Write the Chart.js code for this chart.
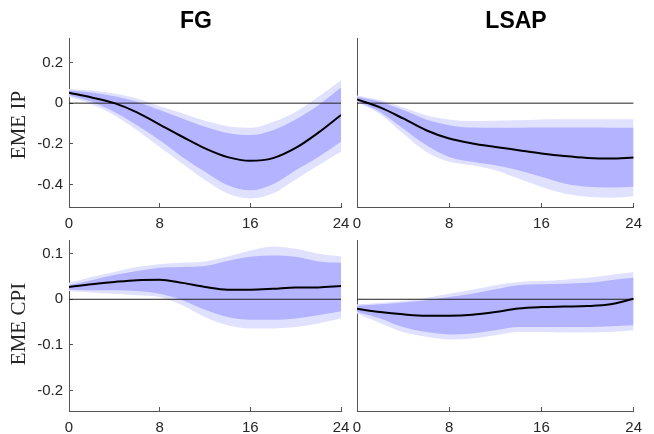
<!DOCTYPE html>
<html>
<head>
<meta charset="utf-8">
<script src="https://cdn.jsdelivr.net/npm/chart.js@4/dist/chart.umd.min.js"></script>
<style>
  body { margin: 0; background: #fff; }
  #wrap { position: relative; width: 654px; height: 434px; overflow: hidden; }
  #wrap canvas { position: absolute; left: 0; top: 0; }
  .title { position: absolute; top: 9px; font: bold 23px "Liberation Sans", Arial, sans-serif; line-height: 23px; color: #000; transform: translateX(-50%); white-space: nowrap; }
  .ylab { position: absolute; left: 18px; font: 21px "Liberation Serif", "Times New Roman", serif; color: #262626; white-space: nowrap; transform: translate(-50%, -50%) rotate(-90deg); }
</style>
</head>
<body>
<div id="wrap">
  <canvas id="c1" width="654" height="434"></canvas>
  <canvas id="c2" width="654" height="434"></canvas>
  <canvas id="c3" width="654" height="434"></canvas>
  <canvas id="c4" width="654" height="434"></canvas>
  <div class="title" style="left:196px">FG</div>
  <div class="title" style="left:516px">LSAP</div>
  <div class="ylab" style="top:125px">EME IP</div>
  <div class="ylab" style="top:324px">EME CPI</div>
</div>
<script>
// horizons (months)
const horizons = [0, 2, 4, 6, 8, 10, 12, 14, 16, 18, 20, 22, 24];
const xTicks = [0, 8, 16, 24];
const ipTicks = [0.2, 0, -0.2, -0.4];
const cpiTicks = [0.1, 0, -0.1, -0.2];

// FG -> EME IP
const fgIpMedian  = [0.051, 0.028, 0.0, -0.045, -0.105, -0.165, -0.222, -0.265, -0.283, -0.27, -0.22, -0.145, -0.058];
const fgIpLightUp = [0.07, 0.062, 0.048, 0.023, -0.015, -0.05, -0.087, -0.113, -0.121, -0.092, -0.043, 0.031, 0.113];
const fgIpDarkUp  = [0.064, 0.052, 0.034, 0.007, -0.034, -0.075, -0.116, -0.146, -0.157, -0.133, -0.08, -0.01, 0.077];
const fgIpDarkLo  = [0.039, 0.007, -0.043, -0.108, -0.182, -0.264, -0.337, -0.403, -0.428, -0.398, -0.329, -0.264, -0.19];
const fgIpLightLo = [0.031, -0.005, -0.059, -0.133, -0.215, -0.296, -0.378, -0.444, -0.468, -0.444, -0.375, -0.305, -0.239];

// LSAP -> EME IP
const lsapIpMedian  = [0.018, -0.021, -0.075, -0.133, -0.174, -0.198, -0.215, -0.231, -0.247, -0.26, -0.269, -0.272, -0.267];
const lsapIpLightUp = [0.038, 0.015, -0.021, -0.059, -0.08, -0.088, -0.087, -0.084, -0.08, -0.079, -0.079, -0.079, -0.079];
const lsapIpDarkUp  = [0.031, 0.007, -0.034, -0.08, -0.108, -0.12, -0.121, -0.121, -0.12, -0.12, -0.12, -0.121, -0.121];
const lsapIpDarkLo  = [0.011, -0.043, -0.124, -0.206, -0.264, -0.288, -0.305, -0.329, -0.362, -0.395, -0.411, -0.414, -0.411];
const lsapIpLightLo = [0.007, -0.054, -0.149, -0.239, -0.288, -0.305, -0.329, -0.37, -0.411, -0.444, -0.46, -0.464, -0.457];

// FG -> EME CPI
const fgCpiMedian  = [0.027, 0.033, 0.038, 0.042, 0.043, 0.036, 0.027, 0.021, 0.021, 0.023, 0.026, 0.026, 0.029];
const fgCpiLightUp = [0.036, 0.049, 0.06, 0.071, 0.077, 0.08, 0.083, 0.094, 0.107, 0.116, 0.111, 0.1, 0.094];
const fgCpiDarkUp  = [0.031, 0.042, 0.053, 0.062, 0.069, 0.071, 0.073, 0.084, 0.093, 0.096, 0.093, 0.083, 0.08];
const fgCpiDarkLo  = [0.021, 0.02, 0.02, 0.018, 0.012, -0.002, -0.023, -0.039, -0.045, -0.045, -0.042, -0.035, -0.026];
const fgCpiLightLo = [0.018, 0.015, 0.012, 0.009, 0.005, -0.013, -0.039, -0.057, -0.064, -0.064, -0.061, -0.053, -0.042];

// LSAP -> EME CPI
const lsapCpiMedian  = [-0.021, -0.028, -0.033, -0.036, -0.036, -0.034, -0.028, -0.02, -0.017, -0.016, -0.015, -0.011, 0.001];
const lsapCpiLightUp = [-0.011, -0.008, -0.004, 0.003, 0.012, 0.021, 0.031, 0.038, 0.04, 0.043, 0.047, 0.053, 0.06];
const lsapCpiDarkUp  = [-0.014, -0.011, -0.007, -0.002, 0.005, 0.012, 0.022, 0.031, 0.033, 0.034, 0.036, 0.042, 0.047];
const lsapCpiDarkLo  = [-0.028, -0.042, -0.061, -0.072, -0.077, -0.075, -0.068, -0.061, -0.061, -0.061, -0.061, -0.059, -0.057];
const lsapCpiLightLo = [-0.031, -0.052, -0.072, -0.082, -0.088, -0.086, -0.079, -0.072, -0.072, -0.073, -0.073, -0.072, -0.068];

const lightBlue = '#e0e0ff';
const darkBlue = '#b3b3ff';
const axisColor = '#555';
const tickFont = { family: '"Liberation Sans", Arial, sans-serif', size: 15 };
const yAxisW = 60;   // room for y tick labels

function pts(vals) {
    return vals.map((v, i) => ({ x: horizons[i], y: v }));
}

function band(vals, color, fill, order) {
    return {
        data: pts(vals),
        fill: fill ? '+1' : false,
        backgroundColor: color,
        borderColor: 'transparent',
        borderWidth: 1,
        pointRadius: 0,
        cubicInterpolationMode: 'monotone',
        order: order
    };
}

// area = plot box in page pixels [left, top, right, bottom]
function panel(id, area, yMin, yMax, yTicks, showY, s) {
    const yw = showY ? yAxisW : 0;
    const xh = Math.min(30, 434 - area[3]);   // room for x tick labels
    new Chart(document.getElementById(id), {
        type: 'line',
        data: {
            datasets: [
                band(s[1], lightBlue, true, 4),
                band(s[4], lightBlue, false, 4),
                band(s[2], darkBlue, true, 3),
                band(s[3], darkBlue, false, 3),
                {
                    data: [{ x: xTicks[0], y: 0 }, { x: xTicks[xTicks.length - 1], y: 0 }],
                    borderColor: '#222',
                    borderWidth: 1,
                    pointRadius: 0,
                    fill: false,
                    order: 2
                },
                {
                    data: pts(s[0]),
                    borderColor: '#000',
                    borderWidth: 2,
                    pointRadius: 0,
                    fill: false,
                    cubicInterpolationMode: 'monotone',
                    order: 1
                }
            ]
        },
        options: {
            responsive: false,
            animation: false,
            events: [],
            layout: {
                padding: {
                    left: area[0] - yw,
                    top: area[1],
                    right: 654 - area[2],
                    bottom: 434 - area[3] - xh
                }
            },
            plugins: { legend: { display: false }, tooltip: { enabled: false } },
            scales: {
                x: {
                    type: 'linear',
                    min: 0,
                    max: 24,
                    afterBuildTicks: sc => { sc.ticks = xTicks.map(v => ({ value: v })); },
                    afterFit: sc => { sc.height = xh; },
                    grid: { drawOnChartArea: false, tickLength: -4, color: axisColor },
                    border: { color: axisColor, width: 1 },
                    ticks: { padding: 12, font: tickFont, color: '#262626', maxRotation: 0, autoSkip: false }
                },
                y: {
                    min: yMin,
                    max: yMax,
                    afterBuildTicks: sc => { sc.ticks = yTicks.map(v => ({ value: v })); },
                    afterFit: sc => { sc.width = yw; },
                    grid: { display: showY, drawOnChartArea: false, tickLength: -4, color: axisColor },
                    border: { color: axisColor, width: 1 },
                    ticks: { display: showY, padding: 10, font: tickFont, color: '#262626', callback: v => String(v) }
                }
            }
        }
    });
}

panel('c1', [69, 38, 341, 207], -0.51, 0.32, ipTicks, true,
    [fgIpMedian, fgIpLightUp, fgIpDarkUp, fgIpDarkLo, fgIpLightLo]);
panel('c2', [357, 38, 642, 207], -0.51, 0.32, ipTicks, false,
    [lsapIpMedian, lsapIpLightUp, lsapIpDarkUp, lsapIpDarkLo, lsapIpLightLo]);
panel('c3', [69, 240, 341, 411], -0.245, 0.13, cpiTicks, true,
    [fgCpiMedian, fgCpiLightUp, fgCpiDarkUp, fgCpiDarkLo, fgCpiLightLo]);
panel('c4', [357, 240, 642, 411], -0.245, 0.13, cpiTicks, false,
    [lsapCpiMedian, lsapCpiLightUp, lsapCpiDarkUp, lsapCpiDarkLo, lsapCpiLightLo]);
</script>
</body>
</html>
